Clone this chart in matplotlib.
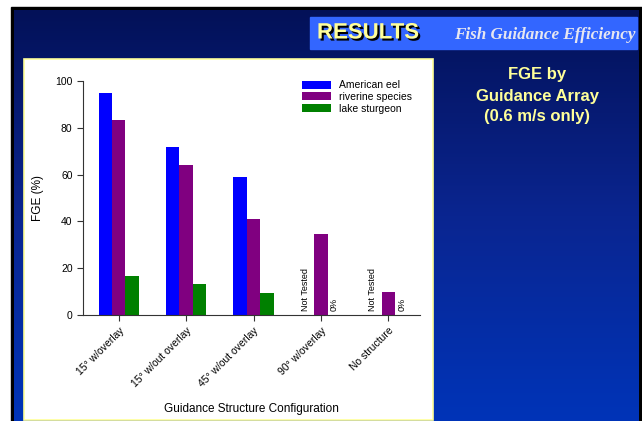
import matplotlib
matplotlib.use('Agg')
import matplotlib.pyplot as plt
import numpy as np
from matplotlib.patches import Rectangle
import matplotlib.patheffects as pe

plt.rcParams['font.family'] = ['Liberation Sans', 'DejaVu Sans']

# data
configs = ['15° w/overlay', '15° w/out overlay', '45° w/out overlay', '90° w/overlay', 'No structure']
species = ['American eel', 'riverine species', 'lake sturgeon']
eel = [95, 71.8, 59, None, None]
riverine = [83.5, 64.3, 41, 34.7, 9.7]
sturgeon = [16.6, 13.2, 9.5, 0, 0]
bar_colors = ['#0000ff', '#800080', '#008000']

W, H = 642, 421
fig = plt.figure(figsize=(W / 100, H / 100), dpi=100)

# slide background in pixel coordinates
bg = fig.add_axes([0, 0, 1, 1])
bg.set_xlim(0, W)
bg.set_ylim(H, 0)
bg.axis('off')
bg.add_patch(Rectangle((11, 7), W - 11, H - 7, color='black', zorder=0))
grad = np.linspace(0, 1, 256).reshape(-1, 1)
cmap = matplotlib.colors.LinearSegmentedColormap.from_list('slide', ['#031158', '#0a2590', '#0034b8'])
bg.imshow(grad, cmap=cmap, extent=(14, 639, H, 10), aspect='auto', zorder=1)
bg.add_patch(Rectangle((310, 17), 327, 32, color='#3366ff', zorder=2))
bg.text(317, 33, 'RESULTS', fontsize=16, fontweight='bold', color='#ffff99', va='center',
        path_effects=[pe.withSimplePatchShadow(offset=(1.5, -1.5), shadow_rgbFace='black', alpha=1)], zorder=3)
bg.text(636, 35, 'Fish Guidance Efficiency', fontsize=12.3, family='Liberation Serif', style='italic',
        fontweight='bold', color='#e6e6f0', ha='right', va='center', zorder=3)
bg.add_patch(Rectangle((23.5, 58.5), 409, 361, facecolor='white', edgecolor='#ffff99', lw=1.2, zorder=2))
bg.text(537, 96, 'FGE by\nGuidance Array\n(0.6 m/s only)', fontsize=12, fontweight='bold', color='#ffff99',
        ha='center', va='center', linespacing=1.5, zorder=3)

# chart
x0, x1, ytop, ybot = 83, 420, 81, 315
ax = fig.add_axes([x0 / W, (H - ybot) / H, (x1 - x0) / W, (ybot - ytop) / H])
ax.set_facecolor('none')
x = np.arange(len(configs))
bw = 0.2
for i, (vals, name) in enumerate(zip([eel, riverine, sturgeon], species)):
    v = [np.nan if a is None else a for a in vals]
    ax.bar(x + (i - 1) * bw, v, bw, color=bar_colors[i], label=name)

for k in [3, 4]:
    ax.text(x[k] - bw - 0.03, 1.5, 'Not Tested', rotation=90, fontsize=6.5, ha='center', va='bottom')
    ax.text(x[k] + bw, 1.5, '0%', rotation=90, fontsize=6.5, ha='center', va='bottom')

ax.set_xlim(-0.53, 4.47)
ax.set_ylim(0, 100)
ax.set_yticks([0, 20, 40, 60, 80, 100])
ax.set_xticks(x)
ax.set_xticklabels(configs, rotation=45, ha='right', rotation_mode='anchor', fontsize=7.5)
ax.tick_params(axis='y', labelsize=7.5, length=4, width=0.8, color='#333333', direction='out')
ax.tick_params(axis='x', length=4, width=0.8, color='#333333', direction='out')
for s in ['top', 'right']:
    ax.spines[s].set_visible(False)
for s in ['left', 'bottom']:
    ax.spines[s].set_linewidth(0.8)
    ax.spines[s].set_color('#333333')
ax.set_ylabel('FGE (%)', fontsize=8.5, labelpad=8)
ax.set_xlabel('Guidance Structure Configuration', fontsize=8.5, labelpad=10)
ax.legend(loc='upper right', bbox_to_anchor=(0.99, 1.02), frameon=False, fontsize=7.5,
          handlelength=2.8, handleheight=0.8, labelspacing=0.15, borderaxespad=0)

fig.savefig('out.png', dpi=100)
